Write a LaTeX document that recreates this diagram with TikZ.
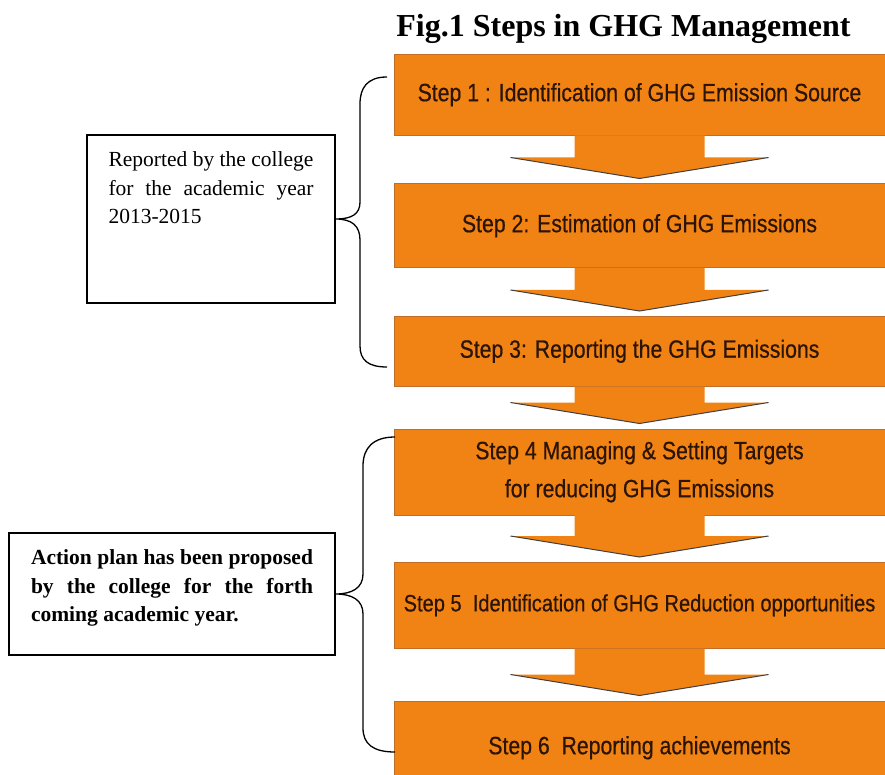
\documentclass[tikz,border=0pt]{standalone}
\usepackage{fontspec}
\setmainfont{Liberation Serif}
\newfontfamily\stepfont[FakeStretch=0.85, FakeBold=0.5]{Liberation Sans}
\usetikzlibrary{positioning}
\definecolor{steporange}{RGB}{240,131,20}
\definecolor{stepedge}{RGB}{190,110,42}
\definecolor{steptext}{RGB}{44,20,4}
\tikzstyle{stepbox} = [rectangle, minimum width=491pt, inner sep=0pt, fill=steporange,
draw=stepedge, line width=0.5pt, text=steptext, align=center,
font=\stepfont\fontsize{25}{38}\selectfont]
\tikzstyle{notebox} = [rectangle, draw=black, line width=1.3pt, inner sep=0pt,
font=\fontsize{21.5}{28.3}\selectfont]
\tikzstyle{bracket} = [line width=1.3pt]
\tikzstyle{arrowshade} = [line width=1pt, draw=black!75]

% block arrow from one step to the next
\newcommand{\steparrow}[2]{%
  \coordinate (tip) at ([yshift=5pt]#2.north);
  \fill[steporange] ([xshift=-65pt]#1.south) -- ([shift={(-65,-21)}]tip)
  -- ([shift={(-129,-21)}]tip) -- (tip) -- ([shift={(129,-21)}]tip)
  -- ([shift={(65,-21)}]tip) -- ([xshift=65pt]#1.south) -- cycle;
  \draw[arrowshade] ([shift={(-129,-21)}]tip) -- (tip) -- ([shift={(129,-21)}]tip);
}

\begin{document}
\begin{tikzpicture}[x=1pt, y=-1pt, node distance=48pt]
  \useasboundingbox (0,0) rectangle (885,775);

  \node (title) [anchor=base] at (623.5,37) {\bfseries\fontsize{32}{36}\selectfont Fig.1 Steps in GHG Management};

  % the six steps
  \node (s1) [stepbox, anchor=north, minimum height=81pt] at (639.5,54) {Step 1 : Identification of GHG Emission Source};
  \node (s2) [stepbox, below=48pt of s1, minimum height=84pt] {Step 2: Estimation of GHG Emissions};
  \node (s3) [stepbox, below=48pt of s2, minimum height=70pt] {Step 3: Reporting the GHG Emissions};
  \node (s4) [stepbox, below=42pt of s3, minimum height=86pt] {Step 4 Managing \& Setting Targets\\ for reducing GHG Emissions};
  \node (s5) [stepbox, below=47pt of s4, minimum height=86pt,
  font=\stepfont\fontsize{23.6}{30}\selectfont] {Step 5\ \ Identification of GHG Reduction opportunities};
  \node (s6) [stepbox, below=52pt of s5, minimum height=94pt] {Step 6\ \ Reporting achievements};

  \steparrow{s1}{s2}
  \steparrow{s2}{s3}
  \steparrow{s3}{s4}
  \steparrow{s4}{s5}
  \steparrow{s5}{s6}

  % notes on the left
  \node (reported) [notebox, minimum width=248pt, minimum height=168pt] at (211,219)
  {\parbox[c][134pt][t]{205pt}{Reported by the college for the academic year 2013-2015}};
  \node (action) [notebox, minimum width=326pt, minimum height=122pt] at (172,594)
  {\parbox[c][88pt][t]{282pt}{\bfseries Action plan has been proposed by the college for the forth coming academic year.}};

  % braces
  \draw[bracket] (387,77) .. controls (367,77) and (360,88) .. (360,104) -- (360,202)
  .. controls (360,214) and (352,219) .. (reported.east)
  .. controls (352,219) and (360,226) .. (360,240) -- (360,346)
  .. controls (360,360) and (368,367) .. (387,367);
  \draw[bracket] (395,437) .. controls (373,437) and (363,448) .. (363,466) -- (363,574)
  .. controls (363,588) and (352,594) .. (action.east)
  .. controls (352,594) and (363,600) .. (363,614) -- (363,728)
  .. controls (363,744) and (373,752) .. (395,752);
\end{tikzpicture}
\end{document}
